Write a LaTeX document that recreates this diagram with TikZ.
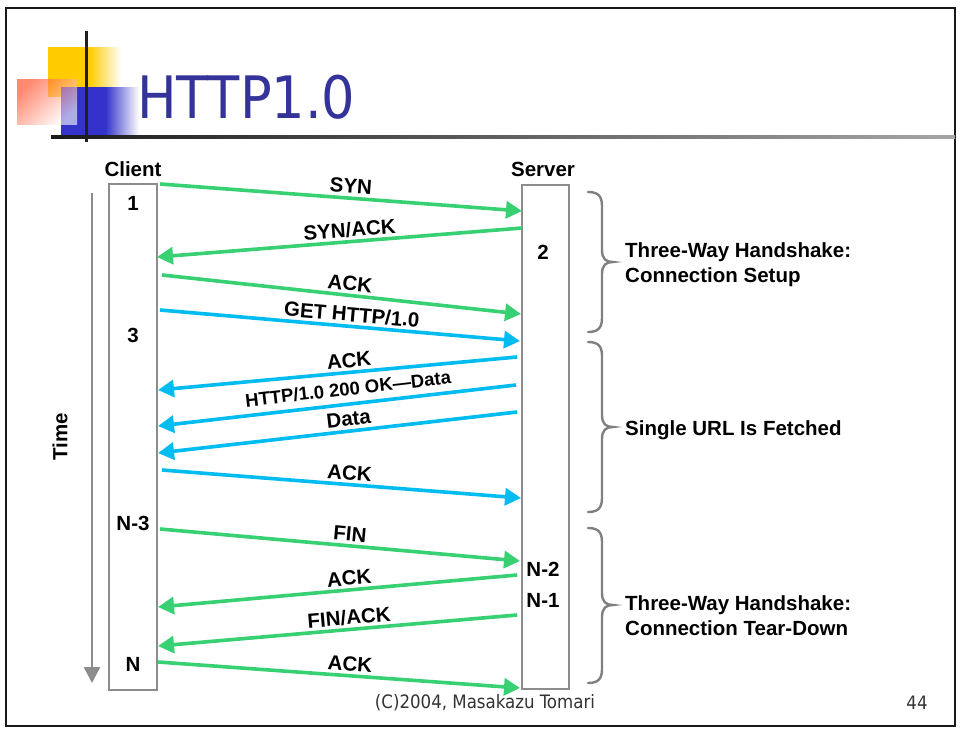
\documentclass[tikz,border=0pt]{standalone}
\usepackage{fontspec}
\setmainfont{Liberation Sans}
\newfontfamily\tah{DejaVu Sans Condensed}
\usetikzlibrary{arrows.meta,shadings}
\definecolor{msggreen}{RGB}{55,208,115}
\definecolor{msgblue}{RGB}{0,188,240}
\definecolor{titleblue}{RGB}{51,51,153}
\definecolor{sqyellow}{RGB}{255,204,0}
\definecolor{sqblue}{RGB}{51,51,204}
\definecolor{sqred}{RGB}{255,60,20}
\begin{document}
\begin{tikzpicture}[x=1pt,y=-1pt,
  lbl/.style={font=\bfseries\fontsize{20.5}{25}\selectfont, inner sep=0pt},
  mlbl/.style={lbl, sloped, above=3pt, text height=14.7pt, text depth=0pt},
  msg/.style={line width=3.6pt, draw=#1, -{Triangle[length=16pt,width=17pt]},
    preaction={draw=black!70, transform canvas={xshift=0.7pt, yshift=-0.9pt}}},
  lifebox/.style={draw=black!45, line width=2.4pt, fill=white, inner sep=0pt},
  bracestyle/.style={draw=black!50, line width=2.4pt, line cap=round},
  foottext/.style={font=\tah\fontsize{18.5}{22}\selectfont, text=black!80, inner sep=0pt},
]
\useasboundingbox (0,0) rectangle (960,731);
\fill[white] (0,0) rectangle (960,731);
% frame
\draw[line width=2.4pt, black!90] (6,8) rectangle (955,726);

% title decoration
\fill[sqyellow] (48,47) rectangle (90,97);
\shade[left color=sqyellow, right color=white] (89.5,47) rectangle (121,97);
\fill[sqblue] (61,87) rectangle (106,136);
\shade[left color=sqblue, right color=white] (105.5,87) rectangle (139,136);
\shade[top color=sqred, bottom color=white, shading angle=45, fill opacity=0.6] (17,79) rectangle (77,124);
\shade[left color=black!90, right color=black!35] (51,135.5) rectangle (955,138.5);
\fill[black!88] (84.5,31) rectangle (87.5,142);
\node[anchor=base west, text=titleblue, font=\tah\fontsize{58.5}{62}\selectfont, inner sep=0pt] (title) at (137,118) {HTTP1.0};

% lifelines
\node[lifebox, minimum width=48pt, minimum height=506pt] (client) at (133,437) {};
\node[lifebox, minimum width=47pt, minimum height=504pt] (server) at (545.5,437) {};
\node[lbl] (clientlbl) at (133,169) {Client};
\node[lbl] (serverlbl) at (543,169) {Server};

% time axis
\coordinate (ttop) at (92,193);
\coordinate (tbot) at (92,683);
\draw[line width=2.4pt, black!45, -{Triangle[length=16pt,width=16pt]}] (ttop) -- (tbot);
\node[lbl, rotate=90] (timelbl) at (60,437) {Time};

% step numbers
\node[lbl] (n1) at (133,203) {1};
\node[lbl] (n3) at (133,335) {3};
\node[lbl] (nn3) at (133,523) {N-3};
\node[lbl] (nn) at (133,664) {N};
\node[lbl] (n2) at (543,252) {2};
\node[lbl] (nn2) at (543,569) {N-2};
\node[lbl] (nn1) at (543,600) {N-1};

% message end points
\coordinate (a1) at (160,184);  \coordinate (b1) at (522,211);
\coordinate (a2) at (522,228);  \coordinate (b2) at (157,257);
\coordinate (a3) at (162,275);  \coordinate (b3) at (521,314);
\coordinate (a4) at (160,310);  \coordinate (b4) at (520,341);
\coordinate (a5) at (517,357);  \coordinate (b5) at (158,390);
\coordinate (a6) at (516,385);  \coordinate (b6) at (158,426);
\coordinate (a7) at (517,412);  \coordinate (b7) at (158,453);
\coordinate (a8) at (162,470);  \coordinate (b8) at (521,498);
\coordinate (a9) at (160,529);  \coordinate (b9) at (520,561);
\coordinate (a10) at (517,575); \coordinate (b10) at (158,607);
\coordinate (a11) at (517,615); \coordinate (b11) at (158,646);
\coordinate (a12) at (158,662); \coordinate (b12) at (520,688);

\draw[msg=msggreen] (a1) -- node[mlbl, pos=0.525] {SYN} (b1);
\draw[msg=msggreen] (a2) -- node[mlbl, pos=0.47] {SYN/ACK} (b2);
\draw[msg=msggreen] (a3) -- node[mlbl, pos=0.52] {ACK} (b3);
\draw[msg=msgblue] (a4) -- node[mlbl, pos=0.53] {GET HTTP/1.0} (b4);
\draw[msg=msgblue] (a5) -- node[mlbl, pos=0.465] {ACK} (b5);
\draw[msg=msgblue] (a6) -- node[mlbl, pos=0.464, above=4pt, font=\bfseries\fontsize{18.5}{22}\selectfont, text height=13.3pt] {HTTP/1.0 200 OK—Data} (b6);
\draw[msg=msgblue] (a7) -- node[mlbl, pos=0.465, above=0.3pt] {Data} (b7);
\draw[msg=msgblue] (a8) -- node[mlbl, pos=0.52] {ACK} (b8);
\draw[msg=msggreen] (a9) -- node[mlbl, pos=0.525] {FIN} (b9);
\draw[msg=msggreen] (a10) -- node[mlbl, pos=0.465] {ACK} (b10);
\draw[msg=msggreen] (a11) -- node[mlbl, pos=0.465] {FIN/ACK} (b11);
\draw[msg=msggreen] (a12) -- node[mlbl, pos=0.528] {ACK} (b12);

% braces
\foreach \T/\M/\B in {192/262/332, 342/427/512, 528/605/683}{
  \draw[bracestyle] (588,\T) .. controls (598,\T) and (602,\T+4) .. (602,\T+14)
    -- (602,\M-12) .. controls (602,\M-3) and (606,\M) .. (613,\M)
    .. controls (606,\M) and (602,\M+3) .. (602,\M+12)
    -- (602,\B-14) .. controls (602,\B-4) and (598,\B) .. (588,\B);
}
\node[lbl, anchor=base west] (p1a) at (625,257) {Three-Way Handshake:};
\node[lbl, anchor=base west] (p1b) at (625,282) {Connection Setup};
\node[lbl, anchor=base west] (p2) at (625,435) {Single URL Is Fetched};
\node[lbl, anchor=base west] (p3a) at (625,610) {Three-Way Handshake:};
\node[lbl, anchor=base west] (p3b) at (625,635) {Connection Tear-Down};

% footer
\node[foottext] (foot) at (485,703) {(C)2004, Masakazu Tomari};
\node[foottext] (page) at (917,703) {44};
\end{tikzpicture}
\end{document}
